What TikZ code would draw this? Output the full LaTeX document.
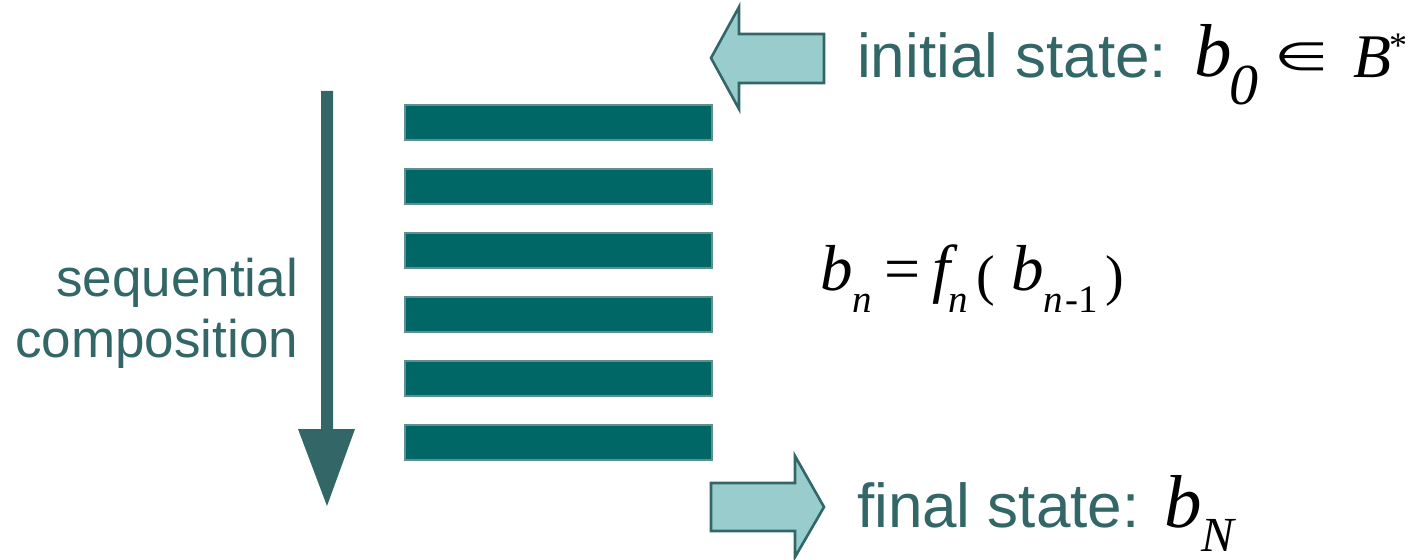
\documentclass[tikz,border=0pt]{standalone}
\usepackage{fontspec}
\usepackage{graphicx}
\setmainfont{Liberation Sans}
\newfontfamily\tms{Liberation Serif}
\newfontfamily\tmsi{Liberation Serif Italic}
\newfontfamily\djv{DejaVu Sans}
\definecolor{txtteal}{HTML}{336666}
\definecolor{barteal}{HTML}{006666}
\definecolor{baredge}{HTML}{5F8F8F}
\definecolor{arrfill}{HTML}{99CCCC}
\newcommand{\fs}[1]{\fontsize{#1}{#1}\selectfont}
\tikzset{
  barbox/.style={fill=barteal, draw=baredge, line width=1.2pt},
  blockarrow/.style={fill=arrfill, draw=txtteal, line width=2.6pt, line join=miter},
  lbl/.style={inner sep=0pt, outer sep=0pt, text=txtteal, anchor=base west},
  mth/.style={inner sep=0pt, outer sep=0pt, text=black, anchor=base west},
}
\begin{document}
\begin{tikzpicture}[x=1pt, y=-1pt]
\useasboundingbox (0,0) rectangle (1412,559);
% bars
\foreach \k in {0,...,5}{
  \draw[barbox] (405,{105+64*\k}) rectangle (712,{140+64*\k});
}
% vertical arrow
\fill[txtteal] (321,91) -- (333,91) -- (333,429) -- (355,429) -- (327,506) -- (298,429) -- (321,429) -- cycle;
% block arrows
\draw[blockarrow] (824,34) -- (739,34) -- (739,7) -- (711,58) -- (739,109) -- (739,83) -- (824,83) -- cycle;
\draw[blockarrow] (711,483) -- (795,483) -- (795,456) -- (824,507) -- (795,557) -- (795,531) -- (711,531) -- cycle;
% left labels
\node[lbl, anchor=base east] (seq) at (298,296) {\fs{53}sequential};
\node[lbl, anchor=base east] (comp) at (298,357) {\fs{53}composition};
% initial state
\node[lbl] (init) at (857,78) {\fs{62}initial state:};
\node[mth] (b0) at (1194,77) {\fs{75}\tmsi b};
\node[mth] (s0) at (1229,105) {\fs{58}\tmsi 0};
\node[mth] (in) at (1274,71) {\scalebox{1.6}[1]{\fs{39}\djv ∈}};
\node[mth] (B) at (1353,78) {\fs{62}\tmsi B};
\node[mth] (st) at (1389,58) {\fs{36}\tms *};
% final state
\node[lbl] (fin) at (857,527) {\fs{62}final state:};
\node[mth] (bN) at (1164,527) {\fs{75}\tmsi b};
\node[mth] (N) at (1201,551) {\fs{49}\tmsi N};
% formula
\node[mth] (fb) at (820,290) {\fs{65}\tmsi b};
\node[mth] (fn) at (852,312) {\fs{39}\tmsi n};
\node[mth] (eq) at (884,290) {\fs{64}\tms =};
\node[mth] (ff) at (932,290) {\fs{65}\tmsi f};
\node[mth] (fn2) at (948,312) {\fs{39}\tmsi n};
\node[mth] (lp) at (976,294) {\fs{56}\tms (};
\node[mth] (fb2) at (1011,290) {\fs{65}\tmsi b};
\node[mth] (fn3) at (1043,312) {\fs{39}\tmsi n};
\node[mth] (m1) at (1065,312) {\fs{39}\tms -1};
\node[mth] (rp) at (1105,294) {\fs{56}\tms )};
\end{tikzpicture}
\end{document}
